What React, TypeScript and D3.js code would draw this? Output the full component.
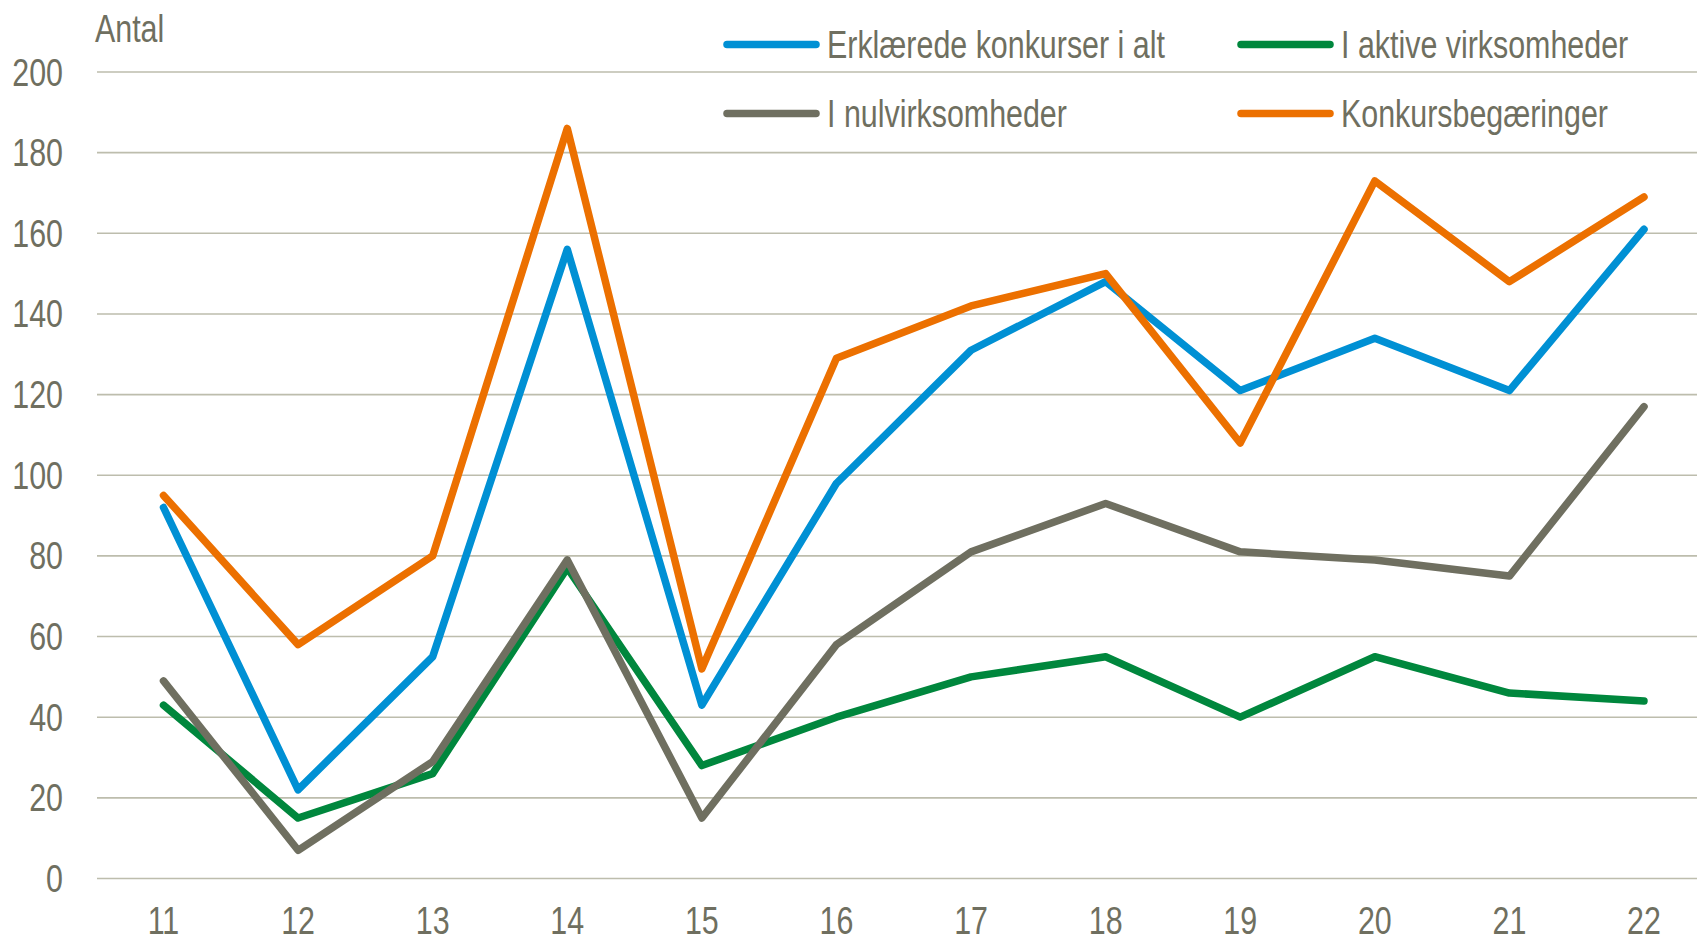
import React, { useEffect, useRef } from 'react';
import * as d3 from 'd3';

const years = ['11', '12', '13', '14', '15', '16', '17', '18', '19', '20', '21', '22'];
const erklaerede = [92, 22, 55, 156, 43, 98, 131, 148, 121, 134, 121, 161];
const aktive = [43, 15, 26, 77, 28, 40, 50, 55, 40, 55, 46, 44];
const nulvirksomheder = [49, 7, 29, 79, 15, 58, 81, 93, 81, 79, 75, 117];
const begaeringer = [95, 58, 80, 186, 52, 129, 142, 150, 108, 173, 148, 169];
const yTicks = [0, 20, 40, 60, 80, 100, 120, 140, 160, 180, 200];

const series = [
  { name: 'Erklærede konkurser i alt', values: erklaerede, color: '#0090d4' },
  { name: 'I aktive virksomheder', values: aktive, color: '#00873d' },
  { name: 'I nulvirksomheder', values: nulvirksomheder, color: '#6f6f60' },
  { name: 'Konkursbegæringer', values: begaeringer, color: '#ec7000' },
];

const W = 1697;
const H = 943;
const FONT = '"Liberation Sans", Arial, sans-serif';
const FS = 38;
const SX = 0.8; // squeeze to look like a narrow face
const TEXT = '#6f6f60';

const App = () => {
  const svgRef = useRef<SVGSVGElement>(null);

  useEffect(() => {
    const svg = d3.select(svgRef.current);
    svg.selectAll('*').remove();

    const x = d3.scalePoint().domain(years).range([163.5, 1644]);
    const y = d3.scaleLinear().domain([0, 200]).range([878.5, 72]);

    // gridlines
    svg.append('g')
      .selectAll('line')
      .data(yTicks)
      .join('line')
      .attr('x1', 97)
      .attr('x2', W)
      .attr('y1', d => y(d))
      .attr('y2', d => y(d))
      .attr('stroke', '#bdbdad')
      .attr('stroke-width', 1.6);

    // y labels
    svg.append('g')
      .selectAll('text')
      .data(yTicks)
      .join('text')
      .attr('transform', d => `translate(63,${y(d) + 13.5}) scale(${SX},1)`)
      .attr('text-anchor', 'end')
      .attr('font-family', FONT)
      .attr('font-size', FS)
      .attr('fill', TEXT)
      .text(d => d);

    svg.append('text')
      .attr('transform', `translate(95,42) scale(${SX},1)`)
      .attr('font-family', FONT)
      .attr('font-size', FS)
      .attr('fill', TEXT)
      .text('Antal');

    // x labels
    svg.append('g')
      .selectAll('text')
      .data(years)
      .join('text')
      .attr('transform', d => `translate(${x(d)},934) scale(${SX},1)`)
      .attr('text-anchor', 'middle')
      .attr('font-family', FONT)
      .attr('font-size', FS)
      .attr('fill', TEXT)
      .text(d => d);

    const line = d3.line<number>()
      .x((_, i) => x(years[i])!)
      .y(d => y(d));

    svg.append('g')
      .selectAll('path')
      .data(series)
      .join('path')
      .attr('d', s => line(s.values))
      .attr('fill', 'none')
      .attr('stroke', s => s.color)
      .attr('stroke-width', 7.5)
      .attr('stroke-linejoin', 'round')
      .attr('stroke-linecap', 'round');

    // legend
    const legendPos = [
      { lx: 727, ly: 44.5 },
      { lx: 1241, ly: 44.5 },
      { lx: 727, ly: 113.5 },
      { lx: 1241, ly: 113.5 },
    ];
    const lg = svg.append('g')
      .selectAll('g')
      .data(series)
      .join('g')
      .attr('transform', (_, i) => `translate(${legendPos[i].lx},${legendPos[i].ly})`);
    lg.append('line')
      .attr('x1', 0)
      .attr('x2', 89)
      .attr('stroke', s => s.color)
      .attr('stroke-width', 7.5)
      .attr('stroke-linecap', 'round');
    lg.append('text')
      .attr('transform', `translate(100,13.5) scale(${SX},1)`)
      .attr('font-family', FONT)
      .attr('font-size', FS)
      .attr('fill', TEXT)
      .text(s => s.name);
  }, []);

  return (
    <svg ref={svgRef} width={W} height={H}
      style={{ position: 'absolute', left: 0, top: 0, background: '#fff' }} />
  );
};

export default App;
